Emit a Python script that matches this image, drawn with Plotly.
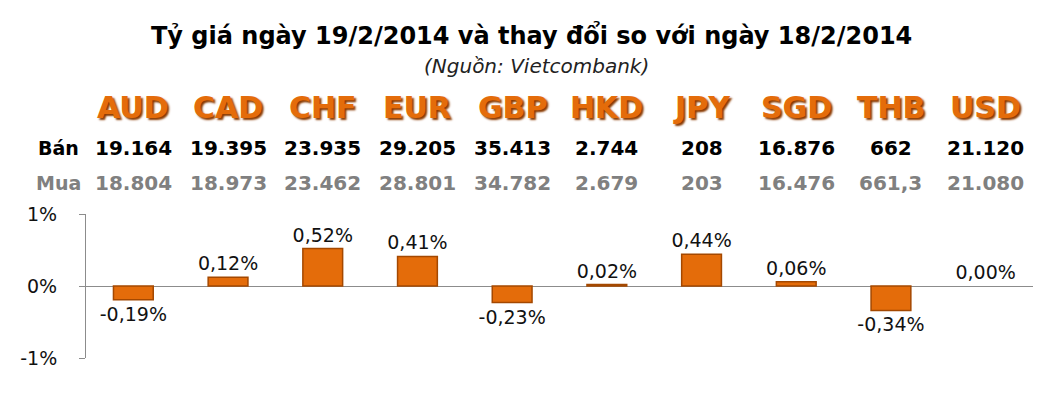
import plotly.graph_objects as go

currencies = ["AUD", "CAD", "CHF", "EUR", "GBP", "HKD", "JPY", "SGD", "THB", "USD"]
ban = ["19.164", "19.395", "23.935", "29.205", "35.413", "2.744", "208", "16.876", "662", "21.120"]
mua = ["18.804", "18.973", "23.462", "28.801", "34.782", "2.679", "203", "16.476", "661,3", "21.080"]
change_pct = [-0.19, 0.12, 0.52, 0.41, -0.23, 0.02, 0.44, 0.06, -0.34, 0.00]
y_ticks = [-1, 0, 1]
y_tick_labels = ["-1%", "0%", "1%"]

OFF = 8  # page body margin
W, H = 1055 - OFF, 393 - OFF
L, R, T, B = 76, 22, 206, 35
PH = H - T - B
PW = W - L - R

def py(page_y):
    return (H - B - (page_y - OFF)) / PH

def pxx(page_x):
    return (page_x - OFF - L) / PW

FONT = "Tahoma, 'DejaVu Sans', Verdana, sans-serif"
ORANGE = "#E46C0A"

labels = [("%.2f%%" % v).replace(".", ",") for v in change_pct]
line_widths = [0 if v == 0 else 1.5 for v in change_pct]

fig = go.Figure()
fig.add_trace(go.Bar(
    x=currencies, y=change_pct,
    marker=dict(color=ORANGE, line=dict(color="#A44800", width=line_widths)),
    text=labels, textposition="outside", cliponaxis=False,
    constraintext="none",
    textfont=dict(family=FONT, size=19, color="#111111"),
    hoverinfo="skip",
))

ann = []
ann.append(dict(text="<b>Tỷ giá ngày 19/2/2014 và thay đổi so với ngày 18/2/2014</b>",
                xref="paper", yref="paper", x=pxx(530), y=py(35),
                xanchor="center", yanchor="middle", showarrow=False,
                font=dict(family=FONT, size=24, color="#000000")))
ann.append(dict(text="<i>(Nguồn: Vietcombank)</i>",
                xref="paper", yref="paper", x=pxx(535), y=py(66),
                xanchor="center", yanchor="middle", showarrow=False,
                font=dict(family=FONT, size=20, color="#222222")))
for c, b, m in zip(currencies, ban, mua):
    ann.append(dict(text="<b>%s</b>" % c, xref="x", yref="paper", x=c, y=py(107),
                    xanchor="center", yanchor="middle", showarrow=False,
                    font=dict(family=FONT, size=30, color=ORANGE,
                              shadow="2px 2px 2px #8a3a00")))
    ann.append(dict(text="<b>%s</b>" % b, xref="x", yref="paper", x=c, y=py(148),
                    xanchor="center", yanchor="middle", showarrow=False,
                    font=dict(family=FONT, size=20, color="#000000")))
    ann.append(dict(text="<b>%s</b>" % m, xref="x", yref="paper", x=c, y=py(183),
                    xanchor="center", yanchor="middle", showarrow=False,
                    font=dict(family=FONT, size=20, color="#808080")))
ann.append(dict(text="<b>Bán</b>", xref="paper", yref="paper", x=pxx(56), y=py(148),
                xanchor="center", yanchor="middle", showarrow=False,
                font=dict(family=FONT, size=19, color="#000000")))
ann.append(dict(text="<b>Mua</b>", xref="paper", yref="paper", x=pxx(56), y=py(183),
                xanchor="center", yanchor="middle", showarrow=False,
                font=dict(family=FONT, size=19, color="#808080")))

fig.update_layout(
    width=W, height=H,
    margin=dict(l=L, r=R, t=T, b=B),
    paper_bgcolor="white", plot_bgcolor="white",
    showlegend=False, bargap=0.58,
    annotations=ann,
    xaxis=dict(showticklabels=False, ticks="", showgrid=False, zeroline=False,
               showline=False, fixedrange=True),
    yaxis=dict(range=[-1, 1], tickvals=y_ticks, ticktext=y_tick_labels,
               showgrid=True, gridcolor="#8c8c8c", gridwidth=1,
               zeroline=True, zerolinecolor="#8c8c8c", zerolinewidth=1,
               showline=True, linecolor="#8c8c8c", linewidth=1,
               ticks="outside", ticklen=6, tickcolor="#8c8c8c",
               ticklabelstandoff=18,
               tickfont=dict(family=FONT, size=19, color="#111111"),
               fixedrange=True),
)

fig.write_html("out.html")
